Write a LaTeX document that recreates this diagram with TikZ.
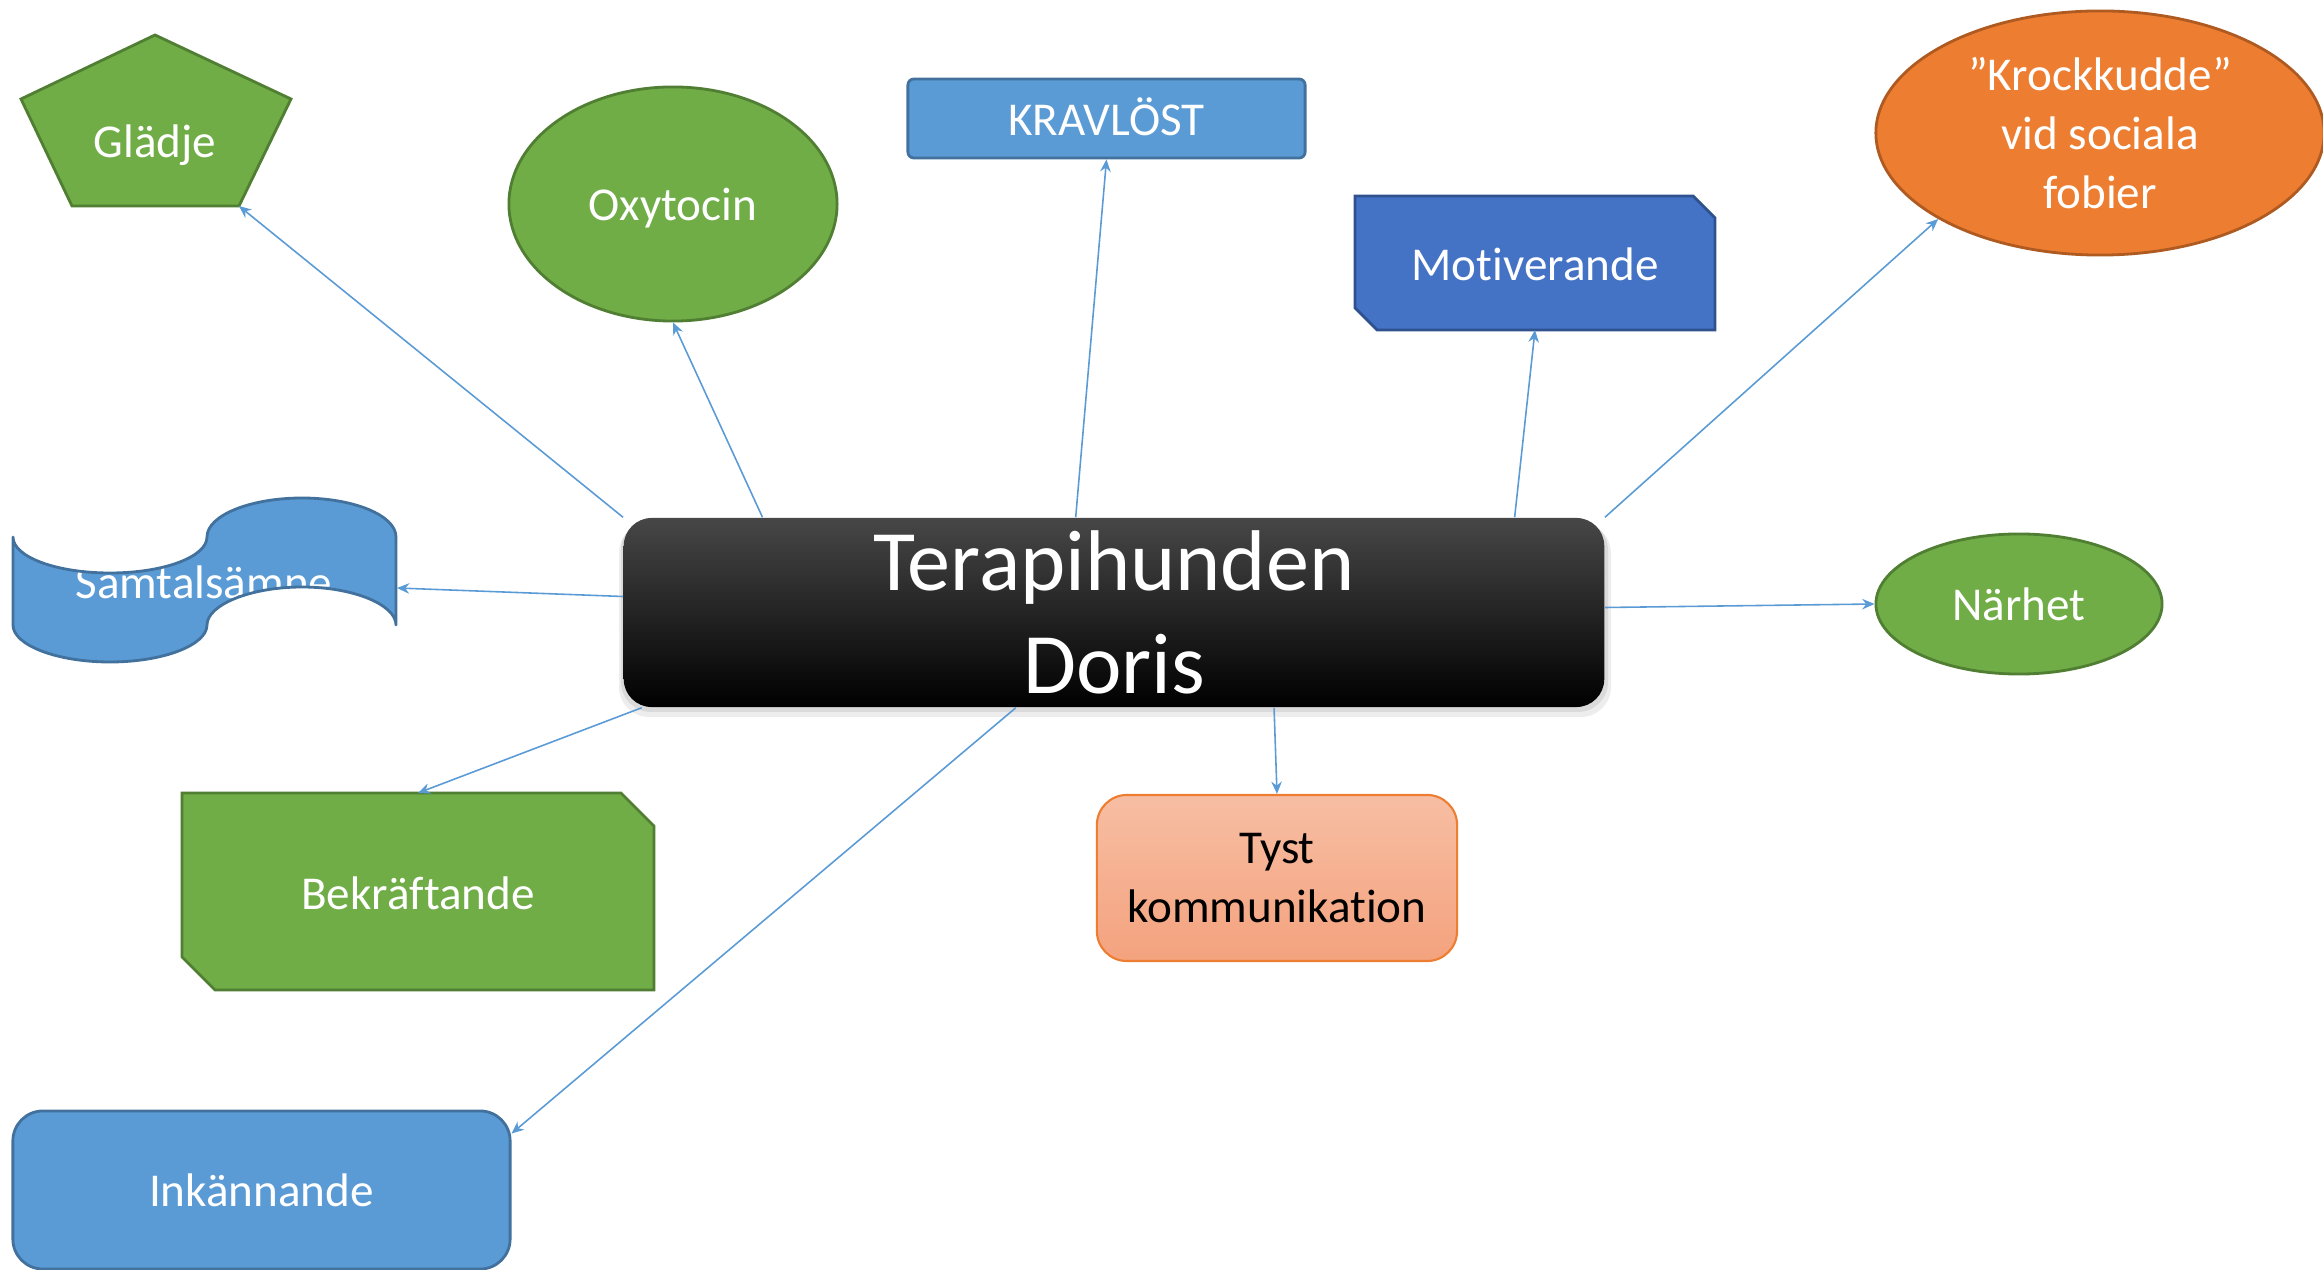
\documentclass[tikz,border=0pt]{standalone}
\usepackage{fontspec}
\setmainfont{Carlito}[Ligatures={NoCommon}]
\usetikzlibrary{arrows.meta,calc,shapes.geometric}
\definecolor{grn}{HTML}{70AD47}
\definecolor{grnD}{HTML}{507E32}
\definecolor{blu}{HTML}{5B9BD5}
\definecolor{bluD}{HTML}{41719C}
\definecolor{dblu}{HTML}{4472C4}
\definecolor{dbluD}{HTML}{2F528F}
\definecolor{org}{HTML}{ED7D31}
\definecolor{orgD}{HTML}{AE5A21}
\definecolor{peachT}{HTML}{F7BEA3}
\definecolor{peachB}{HTML}{F4A27E}
\definecolor{conncol}{HTML}{5B9BD5}
\definecolor{ctop}{HTML}{474747}
\newcommand\lblfont{\fontsize{13.4pt}{16.8pt}\selectfont}
\newcommand\bigfont{\fontsize{24.5pt}{29.3pt}\selectfont}
\tikzset{
  shp/.style={line width=0.8pt, inner sep=0pt, align=center, font=\lblfont, text=white},
  txt/.style={inner sep=0pt, align=center, font=\lblfont, text=white},
  oneline/.style={text height=9.6pt, text depth=0pt},
  conn/.style={draw=conncol, line width=0.45pt, -{Stealth[length=3.5pt,width=3pt]}}
}
\begin{document}
\begin{tikzpicture}[x=0.01cm, y=-0.01cm]
\useasboundingbox (0,0) rectangle (2323,1270);

% central node with shadow
\fill[black, opacity=0.07, rounded corners=0.3cm] (619,523) rectangle (1611,717);
\fill[black, opacity=0.08, rounded corners=0.3cm] (621,520) rectangle (1608,712);
\node[rounded corners=0.28cm, minimum width=9.8cm, minimum height=1.89cm, inner sep=0pt,
      top color=ctop, middle color=black, bottom color=black, text=white, align=center,
      font=\bigfont] (c) at (1114,612.5) {Terapihunden\\Doris};

% Glädje pentagon
\filldraw[fill=grn, draw=grnD, line width=0.8pt, line join=miter]
  (155,35) -- (291,99) -- (239,206) -- (72,206) -- (21,99) -- cycle;
\node[txt, oneline] (gl) at (155,141) {Glädje};
\coordinate (glBR) at (239,206);

% Oxytocin
\node[ellipse, shp, oneline, fill=grn, draw=grnD, minimum width=3.28cm, minimum height=2.34cm] (oxy) at (673,204) {Oxytocin};

% KRAVLÖST
\node[shp, oneline, rounded corners=0.06cm, fill=blu, draw=bluD, minimum width=3.97cm, minimum height=0.79cm] (kr) at (1106.5,118.5) {KRAVLÖST};

% Motiverande (snipped corners)
\filldraw[fill=dblu, draw=dbluD, line width=0.8pt]
  (1355,196) -- (1693,196) -- (1715,218) -- (1715,330) -- (1377,330) -- (1355,308) -- cycle;
\node[txt, oneline] (mot) at (1535,264) {Motiverande};
\coordinate (motB) at (1535,330);

% Krockkudde
\node[ellipse, shp, fill=org, draw=orgD, minimum width=4.48cm, minimum height=2.44cm] (kk) at (2100,133) {”Krockkudde”\\vid sociala\\fobier};

% Närhet
\node[ellipse, shp, oneline, fill=grn, draw=grnD, minimum width=2.86cm, minimum height=1.40cm] (nar) at (2019,604) {Närhet};

% Tyst kommunikation
\node[shp, rounded corners=0.3cm, top color=peachT, bottom color=peachB, draw=org, line width=0.6pt,
      text=black, minimum width=3.6cm, minimum height=1.66cm] (tyst) at (1277,878) {Tyst\\kommunikation};

% Bekräftande (snipped corners)
\filldraw[fill=grn, draw=grnD, line width=0.8pt]
  (182,793) -- (621,793) -- (654,826) -- (654,990) -- (215,990) -- (182,957) -- cycle;
\node[txt, oneline] (bek) at (418,893) {Bekräftande};
\coordinate (bekT) at (418,793);

% Inkännande
\node[shp, oneline, rounded corners=0.3cm, fill=blu, draw=bluD, minimum width=4.97cm, minimum height=1.58cm] (ink) at (261.5,1190) {Inkännande};

% Samtalsämne (double wave)
\def\wavepath{(13,537) .. controls (13,557) and (56.5,573) .. (110,573)
  .. controls (163.5,573) and (207,557) .. (207,537)
  .. controls (207,515.5) and (250,498) .. (302,498)
  .. controls (354,498) and (396,515.5) .. (396,537)
  -- (396,625)
  .. controls (396,605) and (354,587) .. (302,587)
  .. controls (250,587) and (207,605) .. (207,625)
  .. controls (207,645) and (163.5,662) .. (110,662)
  .. controls (56.5,662) and (13,645) .. (13,625) -- cycle}
\fill[blu] \wavepath;
\node[txt, oneline] (sam) at (204,582) {Samtalsämne};
\draw[bluD, line width=0.8pt, line join=round] \wavepath;
\coordinate (samR) at (397,588);

% connectors
\draw[conn] (c.north west) -- (glBR);
\draw[conn] ($(c.north west)!0.142!(c.north east)$) -- (oxy.south);
\draw[conn] ($(c.north west)!0.461!(c.north east)$) -- (kr.south);
\draw[conn] ($(c.north west)!0.908!(c.north east)$) -- (motB);
\draw[conn] (c.north east) -- (kk.208);
\draw[conn] ($(c.east)+(0,-5)$) -- (nar.west);
\draw[conn] ($(c.south west)!0.663!(c.south east)$) -- (tyst.north);
\draw[conn] ($(c.south west)!0.4!(c.south east)$) -- ($(ink.north east)+(0,24)$);
\draw[conn] ($(c.south west)!0.019!(c.south east)$) -- (bekT);
\draw[conn] ($(c.west)+(0,-16)$) -- (samR);
\end{tikzpicture}
\end{document}
